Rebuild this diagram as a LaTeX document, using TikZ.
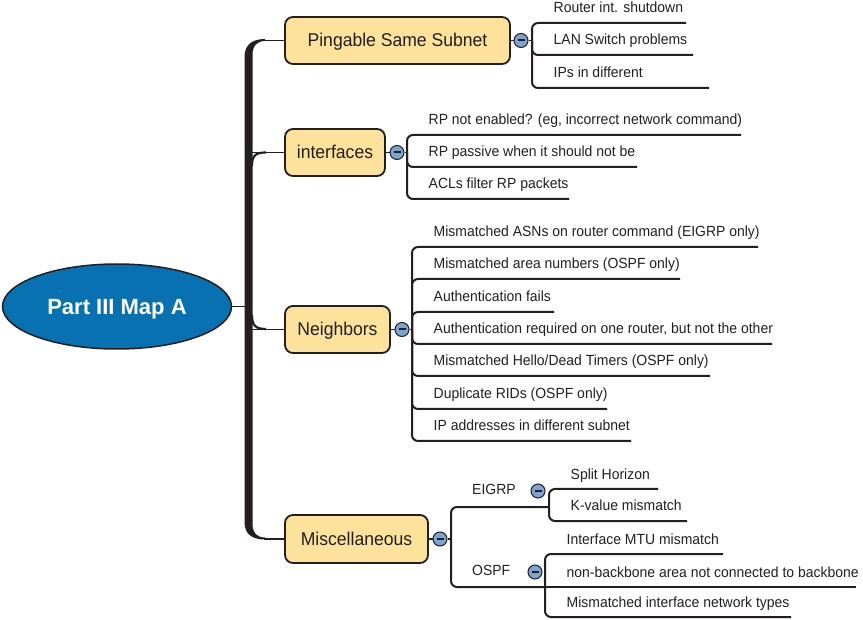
\documentclass[tikz,border=0pt]{standalone}
\usepackage{fontspec}
\setmainfont{Liberation Sans}[FakeStretch=0.95]
\newfontfamily\titlefont{Liberation Sans}
\usetikzlibrary{calc,shapes.geometric}
\definecolor{ink}{RGB}{35,31,32}
\definecolor{boxfill}{RGB}{253,226,155}
\definecolor{rootfill}{RGB}{8,113,177}
\definecolor{btnfill}{RGB}{122,165,209}
\newcommand{\kid}[6]{%
  \coordinate (#1e) at (#5,#4);
  \node[item] (#1) at ($(#2,#4)+(21.5,-10)$) {#6};
  \draw[uline] (#2,#3) -- (#2,#4) -- (#1e);
}
\begin{document}
\begin{tikzpicture}[x=1pt,y=-1pt,
  topic/.style={draw=ink, line width=1.8pt, fill=boxfill, rounded corners=8pt,
    font=\fontsize{18.5}{20}\selectfont, text=ink, text height=14pt, text depth=1pt,
    inner sep=0pt, anchor=center, minimum height=47pt},
  item/.style={anchor=base west, inner sep=0pt, font=\fontsize{14.7}{17}\selectfont, text=ink},
  conn/.style={draw=ink, line width=1.8pt},
  uline/.style={draw=ink, line width=2pt, rounded corners=6pt},
  btn/.style={circle, draw=ink, line width=1pt, fill=btnfill, minimum size=14pt, inner sep=0pt,
    path picture={\draw[ink, line width=2pt] ([xshift=-3.5pt]path picture bounding box.center) -- ([xshift=3.5pt]path picture bounding box.center);}},
]
\useasboundingbox (0,0) rectangle (863,620);

% root
\node[ellipse, draw=ink, line width=1.5pt, fill=rootfill, minimum width=229pt, minimum height=85pt,
  inner sep=0pt, text height=15.75pt, text depth=0pt, text=white,
  font=\titlefont\bfseries\fontsize{22}{24}\selectfont] (root) at (117,306.5) {Part III Map A};

% trunk
\fill[ink] (265,39) .. controls (252,39) and (244.5,45) .. (244.5,57) -- (244.5,522)
  .. controls (244.5,534) and (252,539.5) .. (265,539.5) -- (265,537.5)
  .. controls (257,537.5) and (252.5,533) .. (252.5,524) -- (252.5,55)
  .. controls (252.5,46) and (257,41) .. (265,41) -- cycle;
\coordinate (rj) at (245,306.5);
\draw[conn] (root.east) -- (rj);
\draw[ink, line width=2.2pt] (252,166) .. controls (252,156) and (255,152.5) .. (266,152.5);
\draw[ink, line width=2.2pt] (252,315) .. controls (252,325) and (255,329) .. (266,329);

% main topics
\node[topic, minimum width=225pt] (ping) at (397.5,40.5) {Pingable Same Subnet};
\node[topic, minimum width=100pt] (ifc) at (335,152.5) {interfaces};
\node[topic, minimum width=105pt] (nbr) at (337.5,329.5) {Neighbors};
\node[topic, minimum width=143pt, minimum height=48pt] (misc) at (356.5,539) {Miscellaneous};

\coordinate (j1) at (264,40.5);
\coordinate (j2) at (252,152.5);
\coordinate (j3) at (252,329.5);
\coordinate (j4) at (264,539);
\draw[conn] (j1) -- (ping.west);
\draw[conn] (j2) -- (ifc.west);
\draw[conn] (j3) -- (nbr.west);
\draw[conn] (j4) -- (misc.west);

% buttons
\node[btn] (bping) at (521,40.5) {};
\node[btn] (bifc) at (397,152.5) {};
\node[btn] (bnbr) at (402,329.5) {};
\node[btn] (bmisc) at (440,539) {};
\node[btn] (beig) at (538,491) {};
\node[btn] (bosp) at (535,572) {};

\coordinate (kping) at (532,40.5);
\coordinate (kifc) at (407,152.5);
\coordinate (knbr) at (412,329.5);
\coordinate (kmisc) at (451,539);
\draw[conn] (ping.east) -- (bping.west);
\draw[conn] (bping.east) -- (kping);
\draw[conn] (ifc.east) -- (bifc.west);
\draw[conn] (bifc.east) -- (kifc);
\draw[conn] (nbr.east) -- (bnbr.west);
\draw[conn] (bnbr.east) -- (knbr);
\draw[conn] (misc.east) -- (bmisc.west);
\draw[conn] (bmisc.east) -- (kmisc);

% Pingable children
\kid{p1}{532}{40.5}{23}{686}{Router int. shutdown}
\kid{p2}{532}{40.5}{55}{693}{LAN Switch problems}
\kid{p3}{532}{40.5}{88}{709}{IPs in different}

% interfaces children
\kid{i1}{407}{152.5}{135}{741}{RP not enabled? (eg, incorrect network command)}
\kid{i2}{407}{152.5}{167}{637}{RP passive when it should not be}
\kid{i3}{407}{152.5}{199}{569}{ACLs filter RP packets}

% Neighbors children
\kid{n1}{412}{329.5}{247}{758}{Mismatched ASNs on router command (EIGRP only)}
\kid{n2}{412}{329.5}{279}{680}{Mismatched area numbers (OSPF only)}
\kid{n3}{412}{329.5}{312}{554}{Authentication fails}
\kid{n4}{412}{329.5}{344}{772}{Authentication required on one router, but not the other}
\kid{n5}{412}{329.5}{376}{710}{Mismatched Hello/Dead Timers (OSPF only)}
\kid{n6}{412}{329.5}{409}{607}{Duplicate RIDs (OSPF only)}
\kid{n7}{412}{329.5}{441}{631}{IP addresses in different subnet}

% Miscellaneous
\coordinate (keig) at (549,507);
\coordinate (kosp) at (545,587);
\draw[uline] (kmisc) -- (451,507) -- (keig);
\draw[uline] (kmisc) -- (451,587) -- (kosp);
\node[item] (leig) at (472,494) {EIGRP};
\node[item] (losp) at (472,575) {OSPF};

\kid{e1}{549}{507}{489}{658}{Split Horizon}
\kid{e2}{549}{507}{521}{687}{K-value mismatch}

\kid{o1}{545}{587}{554}{723}{Interface MTU mismatch}
\coordinate (o2e) at (856,587);
\node[item] (o2) at (566.5,577) {non-backbone area not connected to backbone};
\draw[uline] (kosp) -- (o2e);
\kid{o3}{545}{587}{617}{791}{Mismatched interface network types}
\end{tikzpicture}
\end{document}
